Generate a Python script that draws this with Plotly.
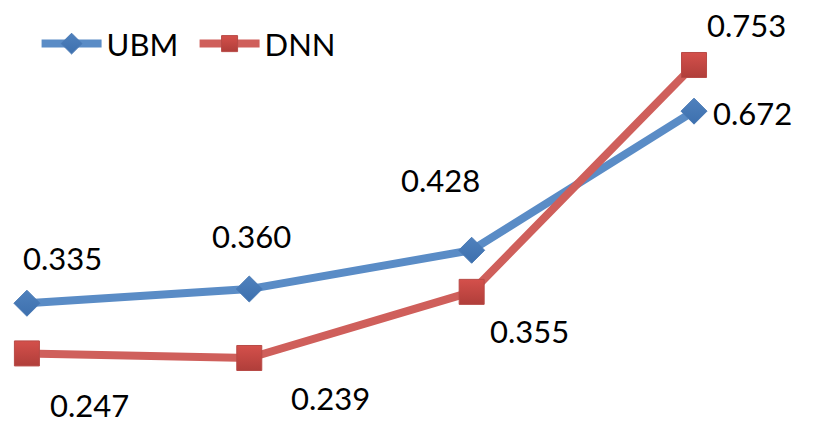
import plotly.graph_objects as go

# Four evaluation conditions (no axis labels are shown)
conditions = [0, 1, 2, 3]
ubm_scores = [0.335, 0.360, 0.428, 0.672]
dnn_scores = [0.247, 0.239, 0.355, 0.753]

# Pixel offsets of each value label relative to its point
ubm_label_shift = [(36, 45), (2, 53), (-31, 70), (58, -2)]
dnn_label_shift = [(63, -52), (81, -40), (58, -39), (52, 40)]

BLUE = "#4F81BD"
FONT = "Lato, Carlito, sans-serif"

fig = go.Figure()
fig.add_trace(go.Scatter(
    x=conditions, y=ubm_scores, name="UBM", mode="lines+markers",
    line=dict(color="#5A8CC6", width=8),
    marker=dict(symbol="diamond", size=20, color=BLUE,
                gradient=dict(type="vertical", color="#3D70AE"),
                line=dict(width=1, color="#4A7AB5")),
))
fig.add_trace(go.Scatter(
    x=conditions, y=dnn_scores, name="DNN", mode="lines+markers",
    line=dict(color="#CF5F5B", width=8),
    marker=dict(symbol="square", size=25, color="#D4504B",
                gradient=dict(type="vertical", color="#B03E3A"),
                line=dict(width=1, color="#B84A46")),
))

for xs, ys, shifts in ((conditions, ubm_scores, ubm_label_shift),
                       (conditions, dnn_scores, dnn_label_shift)):
    for x, y, (dx, dy) in zip(xs, ys, shifts):
        fig.add_annotation(x=x, y=y, text=f"{y:.3f}", showarrow=False,
                           xshift=dx, yshift=dy, borderpad=0,
                           font=dict(family=FONT, size=31, color="#000000"))

fig.update_layout(
    width=813, height=424,
    margin=dict(l=0, r=0, t=0, b=0),
    paper_bgcolor="white", plot_bgcolor="white",
    xaxis=dict(range=[-0.121, 3.535], visible=False),
    yaxis=dict(range=[0.1232, 0.867], visible=False),
    showlegend=True,
    legend=dict(orientation="h", x=0.045, y=0.96, xanchor="left", yanchor="top",
                font=dict(family=FONT, size=31, color="#000000"),
                itemwidth=60, entrywidth=83, bgcolor="rgba(0,0,0,0)"),
)

fig.write_html("out.html")
